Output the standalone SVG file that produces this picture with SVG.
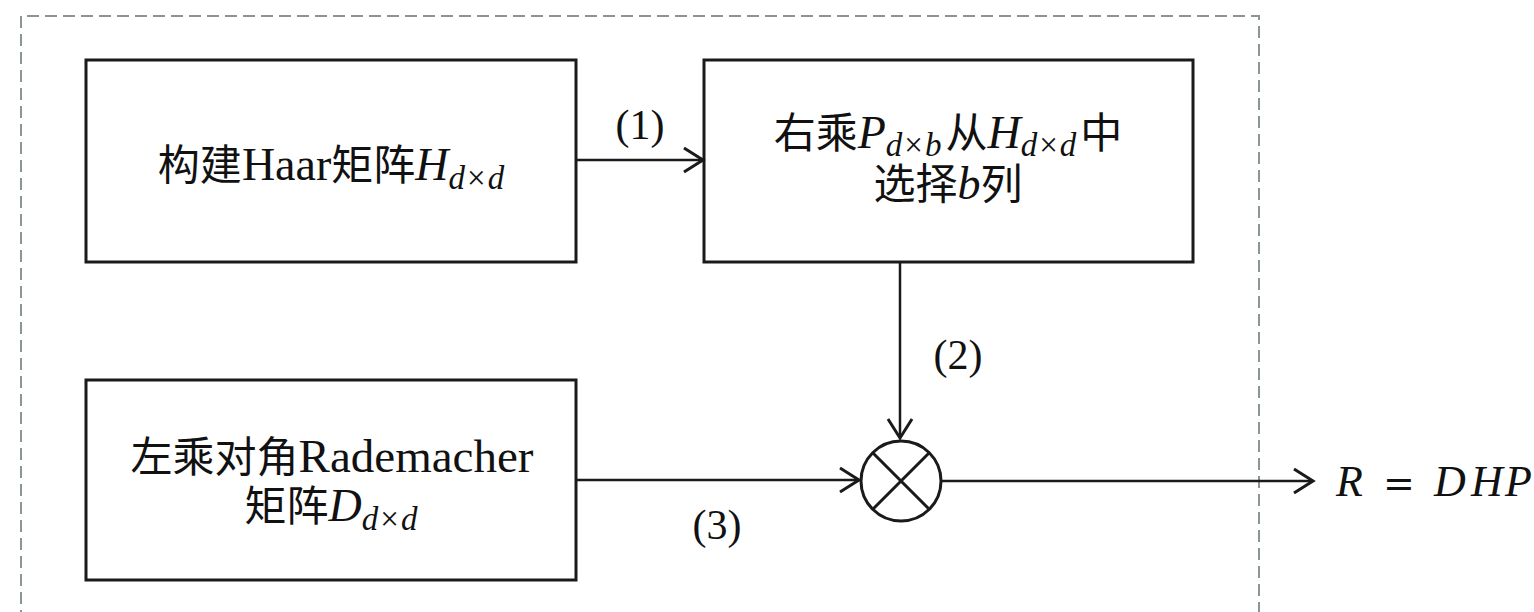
<svg xmlns="http://www.w3.org/2000/svg" width="1534" height="612" viewBox="0 0 1534 612">
<defs>
<style>
.box{fill:#fff;stroke:#1a1a1a;stroke-width:3}
.con{fill:none;stroke:#1a1a1a;stroke-width:2.5}
.t{font-family:"Liberation Serif","Noto Sans CJK SC",serif;font-size:42px;fill:#111;text-anchor:middle}
.lat{font-size:46px}
.m{font-style:italic;font-size:46px}
.s{font-size:33px;font-style:italic}
.x{font-style:normal}
.lbl{font-family:"Liberation Serif",serif;font-size:42px;fill:#111;text-anchor:middle}
</style>
<marker id="arr" markerWidth="24" markerHeight="28" refX="21" refY="14" orient="auto" markerUnits="userSpaceOnUse">
<path d="M2,2 L21,14 L2,26" fill="none" stroke="#1a1a1a" stroke-width="3"/>
</marker>
</defs>
<rect width="1534" height="612" fill="#fff"/>
<path d="M21,640 L21,16 L1259,16 L1259,640" fill="none" stroke="#8a9597" stroke-width="2" stroke-dasharray="12,6"/>
<g id="n1">
<rect class="box" x="86" y="60" width="490" height="202"/>
<text class="t" x="331" y="180">构建<tspan class="lat">Haar</tspan>矩阵<tspan class="m">H</tspan><tspan class="s" dy="9">d<tspan class="x" dx="2">×</tspan><tspan dx="2">d</tspan></tspan></text>
</g>
<g id="n2">
<rect class="box" x="704" y="60" width="489" height="202"/>
<text class="t" x="948" y="148">右乘<tspan class="m">P</tspan><tspan class="s" dy="8">d<tspan class="x" dx="2">×</tspan><tspan dx="2">b</tspan></tspan><tspan dx="4" dy="-8">从</tspan><tspan class="m">H</tspan><tspan class="s" dy="8">d<tspan class="x" dx="2">×</tspan><tspan dx="2">d</tspan></tspan><tspan dx="4" dy="-8">中</tspan></text>
<text class="t" x="948" y="199">选择<tspan class="m">b</tspan>列</text>
</g>
<g id="n3">
<rect class="box" x="86" y="380" width="490" height="200"/>
<text class="t" x="332" y="472">左乘对角<tspan class="lat" style="font-size:47px">Rademacher</tspan></text>
<text class="t" x="331" y="521">矩阵<tspan class="m">D</tspan><tspan class="s" dy="9">d<tspan class="x" dx="2">×</tspan><tspan dx="2">d</tspan></tspan></text>
</g>
<g id="mult">
<circle cx="901" cy="481" r="40" fill="#fff" stroke="#1a1a1a" stroke-width="3"/>
<path d="M873,453 L929,509 M929,453 L873,509" stroke="#1a1a1a" stroke-width="3"/>
</g>
<g id="connectors">
<line class="con" x1="576" y1="160" x2="703" y2="160" marker-end="url(#arr)"/>
<line class="con" x1="900" y1="262" x2="900" y2="438" marker-end="url(#arr)"/>
<line class="con" x1="576" y1="480" x2="859" y2="480" marker-end="url(#arr)"/>
<line class="con" x1="941" y1="481" x2="1313" y2="481" marker-end="url(#arr)"/>
<text class="lbl" x="640" y="139">(1)</text>
<text class="lbl" x="958" y="369">(2)</text>
<text class="lbl" x="717" y="539">(3)</text>
</g>
<g id="out">
<text font-family="Liberation Serif,serif" font-size="44" font-style="italic" fill="#111"><tspan x="1336" y="496">R</tspan><tspan x="1383" font-style="normal" font-family="DejaVu Sans,sans-serif" font-size="38">=</tspan><tspan x="1434">D</tspan><tspan x="1471">H</tspan><tspan x="1505">P</tspan></text>
</g>
</svg>
